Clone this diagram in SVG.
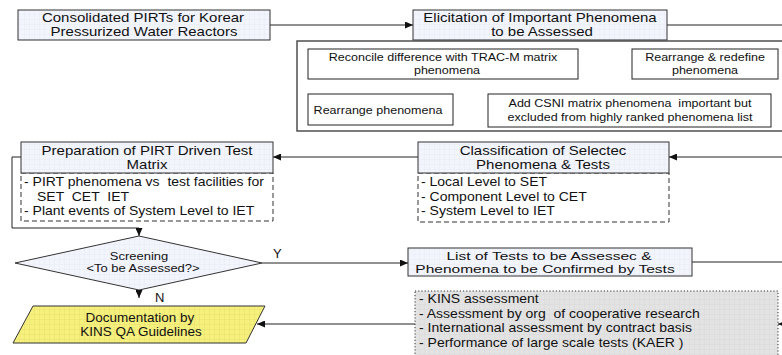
<svg xmlns="http://www.w3.org/2000/svg" width="782" height="355" viewBox="0 0 782 355">
<style>
text{font-family:"Liberation Sans",Arial,sans-serif;fill:#111;white-space:pre}
.h{font-size:12.5px;text-anchor:middle}
.hl{font-size:11.5px;text-anchor:middle}
.m{font-size:11.5px;text-anchor:middle}
.l{font-size:12.5px}
.g{font-size:13px}
.d{font-size:11px;text-anchor:middle}
.p{font-size:12px;text-anchor:middle}
.box{stroke:#222;stroke-width:1}
.hdr{fill:url(#gb);stroke:#333;stroke-width:1}
.dash{fill:#fff;stroke:#333;stroke-width:1;stroke-dasharray:5 3}
.ln{fill:none;stroke:#222;stroke-width:1}
</style>
<defs>
<pattern id="gb" width="5" height="5" patternUnits="userSpaceOnUse">
<rect width="5" height="5" fill="#f3f5fc"/>
<path d="M5 0V5M0 5H5" stroke="#e0e4f2" stroke-width="0.6"/>
</pattern>
<pattern id="gy" width="5" height="5" patternUnits="userSpaceOnUse">
<rect width="5" height="5" fill="#f6f07c"/>
<path d="M5 0V5M0 5H5" stroke="#e2d966" stroke-width="0.6"/>
</pattern>
<pattern id="gg" width="5" height="5" patternUnits="userSpaceOnUse">
<rect width="5" height="5" fill="#e3e3e3"/>
<path d="M5 0V5M0 5H5" stroke="#d3d3d3" stroke-width="0.6"/>
</pattern>
<marker id="ar" markerWidth="8" markerHeight="7" refX="8" refY="3.5" orient="auto" markerUnits="userSpaceOnUse">
<path d="M0 0L8 3.5L0 7Z" fill="#111"/>
</marker>
</defs>

<g id="connectors">
<path class="ln" d="M270 25H413" marker-end="url(#ar)"/>
<path class="ln" d="M667 25H782"/>
<path class="ln" d="M578 64H632" marker-end="url(#ar)"/>
<path class="ln" d="M702 80V93" marker-end="url(#ar)"/>
<path class="ln" d="M488 110H453" marker-end="url(#ar)"/>
<path class="ln" d="M782 157H669" marker-end="url(#ar)"/>
<path class="ln" d="M418 157H273" marker-end="url(#ar)"/>
<path class="ln" d="M21 157H12V228H139V236" marker-end="url(#ar)"/>
<path class="ln" d="M262 263H408" marker-end="url(#ar)"/>
<path class="ln" d="M139 290V298" marker-end="url(#ar)"/>
<path class="ln" d="M692 262H782"/>
<path class="ln" d="M415 324H257" marker-end="url(#ar)"/>
<path class="ln" d="M786 324H778" marker-end="url(#ar)"/>
<text x="273" y="258" style="font-size:13px">Y</text>
<text x="155" y="302" style="font-size:13px">N</text>
</g>

<g id="consolidated">
<rect class="hdr" x="18" y="10" width="252" height="30"/>
<text class="h" transform="translate(143 22) scale(1.2 1)">Consolidated PIRTs for Korear</text>
<text class="h" transform="translate(144 36) scale(1.2 1)">Pressurized Water Reactors</text>
</g>

<g id="elicitation">
<rect class="hdr" x="413" y="10" width="254" height="30"/>
<text class="h" transform="translate(540 22) scale(1.2 1)">Elicitation of Important Phenomena</text>
<text class="h" transform="translate(542 36) scale(1.2 1)">to be Assessed</text>
</g>

<g id="elicitation-detail">
<rect x="297" y="41" width="490" height="90" fill="#fff" stroke="#444" stroke-width="1.4"/>
</g>

<g id="reconcile">
<rect class="box" x="308" y="49" width="270" height="30" fill="#fff"/>
<text class="m" transform="translate(443 60.5) scale(1.09 1)">Reconcile difference with TRAC-M matrix</text>
<text class="m" transform="translate(447 74) scale(1.09 1)">phenomena</text>
</g>

<g id="redefine">
<rect class="box" x="632" y="49" width="146" height="30" fill="#fff"/>
<text class="m" transform="translate(705 60.5) scale(1.09 1)">Rearrange &amp; redefine</text>
<text class="m" transform="translate(705 74) scale(1.09 1)">phenomena</text>
</g>

<g id="add-csni">
<rect class="box" x="488" y="94" width="283" height="33" fill="#fff"/>
<text class="m" transform="translate(630 107) scale(1.09 1)">Add CSNI matrix phenomena  important but</text>
<text class="m" transform="translate(630 121) scale(1.09 1)">excluded from highly ranked phenomena list</text>
</g>

<g id="rearrange">
<rect class="box" x="308" y="94" width="145" height="31" fill="#fff"/>
<text class="m" transform="translate(378 114) scale(1.09 1)">Rearrange phenomena</text>
</g>

<g id="preparation">
<rect class="dash" x="21" y="173" width="252" height="48"/>
<rect class="hdr" x="21" y="142" width="252" height="31"/>
<text class="h" transform="translate(147 155) scale(1.2 1)">Preparation of PIRT Driven Test</text>
<text class="h" transform="translate(147 169) scale(1.2 1)">Matrix</text>
<text class="l" transform="translate(24 186) scale(1.12 1)">- PIRT phenomena vs  test facilities for</text>
<text class="l" transform="translate(37 200.5) scale(1.12 1)">SET  CET  IET</text>
<text class="l" transform="translate(24 215) scale(1.12 1)">- Plant events of System Level to IET</text>
</g>

<g id="classification">
<rect class="dash" x="418" y="173" width="251" height="49"/>
<rect class="hdr" x="418" y="142" width="251" height="31"/>
<text class="h" transform="translate(543 155) scale(1.2 1)">Classification of Selectec</text>
<text class="h" transform="translate(543 169) scale(1.2 1)">Phenomena &amp; Tests</text>
<text class="l" transform="translate(421 186) scale(1.12 1)">- Local Level to SET</text>
<text class="l" transform="translate(421 200.5) scale(1.12 1)">- Component Level to CET</text>
<text class="l" transform="translate(421 215) scale(1.12 1)">- System Level to IET</text>
</g>

<g id="screening">
<path d="M15 263L139 236L262 263L139 290Z" fill="url(#gb)" stroke="#333" stroke-width="1"/>
<text class="d" transform="translate(139 260) scale(1.18 1)">Screening</text>
<text class="d" transform="translate(143 272) scale(1.18 1)">&lt;To be Assessed?&gt;</text>
</g>

<g id="list-tests">
<rect class="hdr" x="408" y="248" width="284" height="28"/>
<text class="hl" transform="translate(549 260) scale(1.35 1)">List of Tests to be Assessec &amp;</text>
<text class="hl" transform="translate(545 273) scale(1.35 1)">Phenomena to be Confirmed by Tests</text>
</g>

<g id="documentation">
<path d="M33 306H265L246 343H13Z" fill="url(#gy)" stroke="#333" stroke-width="1"/>
<text class="p" transform="translate(140 322) scale(1.125 1)">Documentation by</text>
<text class="p" transform="translate(141 335.5) scale(1.125 1)">KINS QA Guidelines</text>
</g>

<g id="assessment">
<rect x="415" y="291" width="363" height="70" fill="url(#gg)" stroke="#333" stroke-width="1" stroke-dasharray="1.2 2"/>
<text class="g" transform="translate(419 303) scale(1.077 1)">- KINS assessment</text>
<text class="g" transform="translate(419 317.5) scale(1.077 1)">- Assessment by org  of cooperative research</text>
<text class="g" transform="translate(419 332) scale(1.077 1)">- International assessment by contract basis</text>
<text class="g" transform="translate(419 346.5) scale(1.077 1)">- Performance of large scale tests (KAER )</text>
</g>
</svg>
